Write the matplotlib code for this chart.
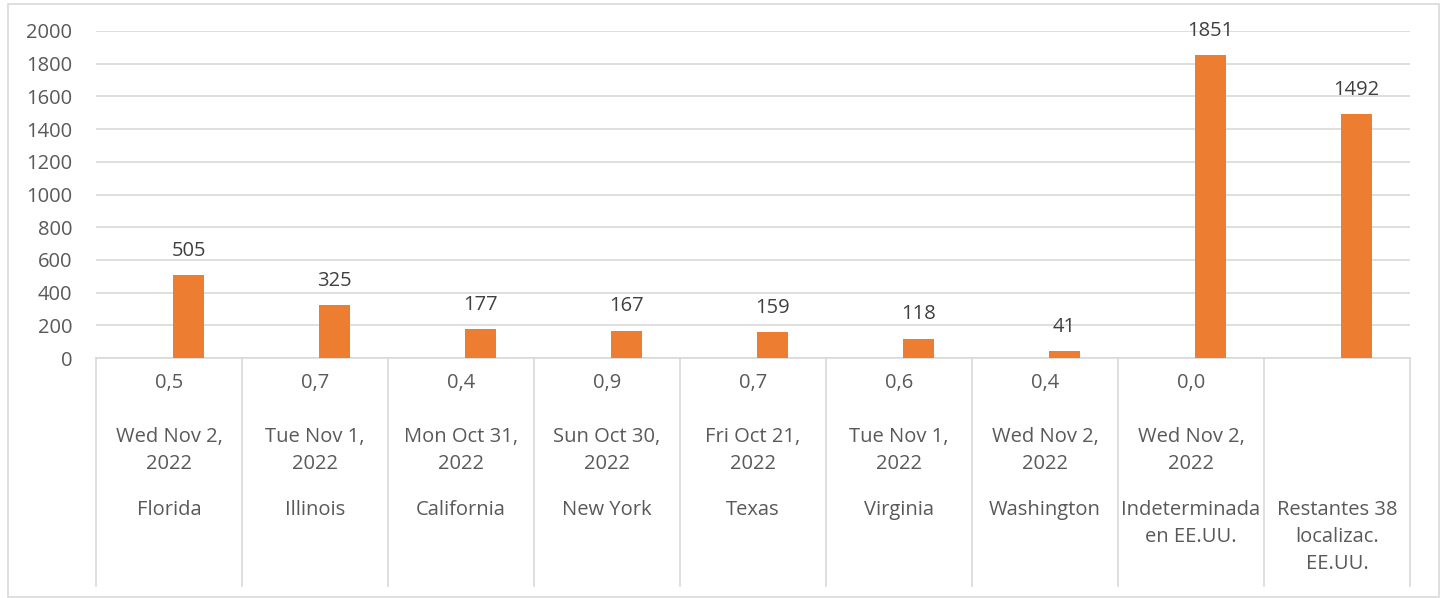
import matplotlib
matplotlib.use("Agg")
import matplotlib.pyplot as plt
import matplotlib.transforms as mtransforms
from matplotlib.patches import Rectangle

plt.rcParams['font.family'] = ['Open Sans', 'DejaVu Sans']

# ---- data ----
locations = ["Florida", "Illinois", "California", "New York", "Texas",
             "Virginia", "Washington", "Indeterminada\nen EE.UU.",
             "Restantes 38\nlocalizac.\nEE.UU."]
dates = ["Wed Nov 2,\n2022", "Tue Nov 1,\n2022", "Mon Oct 31,\n2022",
         "Sun Oct 30,\n2022", "Fri Oct 21,\n2022", "Tue Nov 1,\n2022",
         "Wed Nov 2,\n2022", "Wed Nov 2,\n2022", ""]
ratios = ["0,5", "0,7", "0,4", "0,9", "0,7", "0,6", "0,4", "0,0", ""]
values = [505, 325, 177, 167, 159, 118, 41, 1851, 1492]
y_ticks = [0, 200, 400, 600, 800, 1000, 1200, 1400, 1600, 1800, 2000]

FS = 14.5
TXT = '#595959'

W, H = 1444, 598
fig = plt.figure(figsize=(W / 100, H / 100), dpi=100)

def fx(px):
    return px / W

def fy(py):
    return 1 - py / H

# outer border
fig.patches.append(Rectangle((fx(8), fy(597)), fx(1439) - fx(8), fy(4) - fy(597),
                             transform=fig.transFigure, fill=False,
                             edgecolor='#d9d9d9', linewidth=1.2))

ax = fig.add_axes([fx(96), fy(358), fx(1410) - fx(96), fy(31) - fy(358)])
n = len(values)
x = list(range(n))
ax.bar([i + 0.134 for i in x], values, width=0.215, color='#ED7D31', zorder=3)
for i, v in enumerate(values):
    ax.annotate(str(v), (i + 0.134, v), xytext=(0, 17.5), textcoords='offset points',
                ha='center', va='center', fontsize=FS, color='#404040')

ax.set_xlim(-0.5, n - 0.5)
ax.set_ylim(0, 2000)
ax.set_yticks(y_ticks)
ax.set_yticklabels([str(t) for t in y_ticks], fontsize=FS, color=TXT)
ax.tick_params(axis='y', length=0, pad=17)
ax.set_xticks([])
ax.grid(axis='y', color='#d9d9d9', linewidth=1.2, zorder=0)
for s in ['top', 'right', 'left']:
    ax.spines[s].set_visible(False)
ax.spines['bottom'].set_color('#d9d9d9')
ax.spines['bottom'].set_linewidth(1.2)

# multi-level category labels
trans = mtransforms.blended_transform_factory(ax.transData, fig.transFigure)
for b in range(n + 1):
    ax.plot([b - 0.5, b - 0.5], [fy(358), fy(586)], transform=trans,
            color='#d9d9d9', linewidth=1.2, clip_on=False)

line_px = 27
for i in range(n):
    ax.text(i, fy(383), ratios[i], transform=trans, ha='center', va='center',
            fontsize=FS, color=TXT)
    for k, ln in enumerate(dates[i].split("\n") if dates[i] else []):
        ax.text(i, fy(437 + k * line_px), ln, transform=trans, ha='center',
                va='center', fontsize=FS, color=TXT)
    for k, ln in enumerate(locations[i].split("\n")):
        ax.text(i, fy(510 + k * line_px), ln, transform=trans, ha='center',
                va='center', fontsize=FS, color=TXT)

fig.savefig("out.png", dpi=100)
